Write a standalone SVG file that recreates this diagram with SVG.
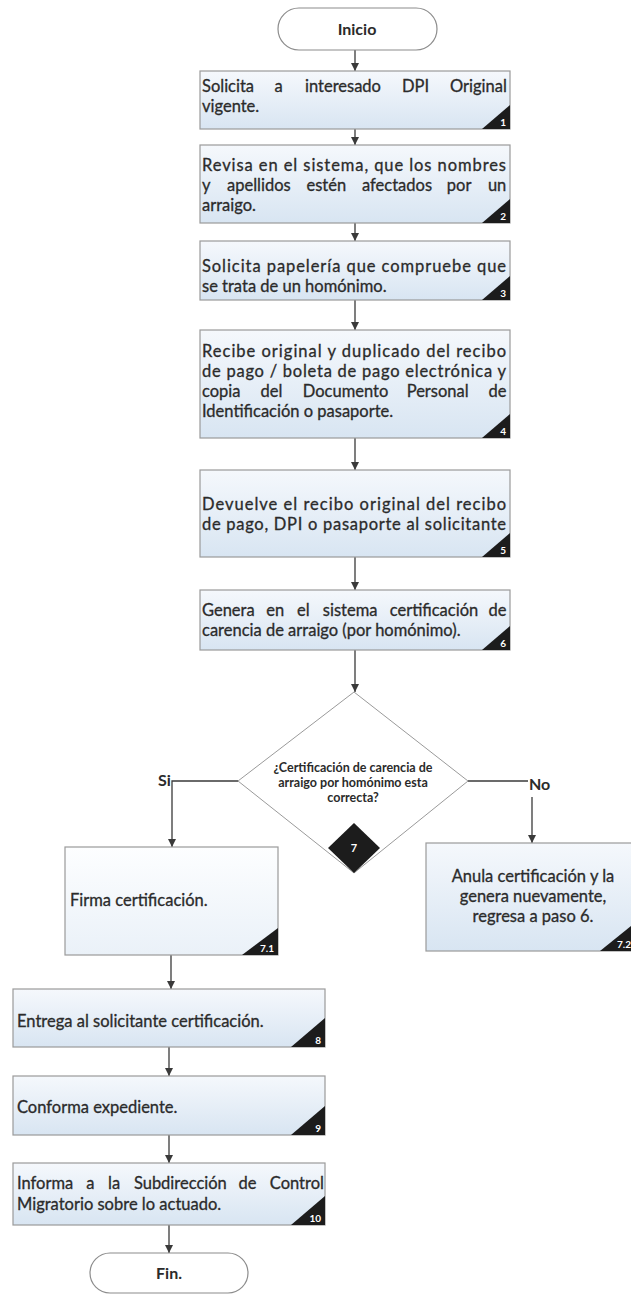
<svg xmlns="http://www.w3.org/2000/svg" width="631" height="1295" viewBox="0 0 631 1295">
<defs>
<linearGradient id="gb" x1="0" y1="0" x2="0" y2="1">
<stop offset="0" stop-color="#f5f8fc"/>
<stop offset="1" stop-color="#d8e5f2"/>
</linearGradient>
<linearGradient id="gw" x1="0" y1="0" x2="0" y2="1">
<stop offset="0" stop-color="#fdfeff"/>
<stop offset="1" stop-color="#eaf1f8"/>
</linearGradient>
<marker id="ah" markerWidth="9" markerHeight="9" refX="8" refY="4" orient="auto" markerUnits="userSpaceOnUse">
<path d="M0,0 L8,4 L0,8 z" fill="#3a3a3a"/>
</marker>
<style>
.box{fill:url(#gb);stroke:#9a9a9a;stroke-width:1.2}
.boxw{fill:url(#gw);stroke:#9a9a9a;stroke-width:1.2}
.term{fill:#ffffff;stroke:#8c8c8c;stroke-width:1.2}
.t{font-family:Lato,"Liberation Sans",sans-serif;font-size:16.5px;fill:#2b2b2b;stroke:#2b2b2b;stroke-width:0.3}
.tb{font-family:Lato,"Liberation Sans",sans-serif;font-size:16px;font-weight:bold;fill:#2b2b2b}
.dt{font-family:Lato,"Liberation Sans",sans-serif;font-size:12.5px;font-weight:bold;fill:#2b2b2b}
.tri{fill:#1c1c1c}
.num{font-family:Lato,"Liberation Sans",sans-serif;font-size:10px;font-weight:bold;fill:#ffffff;text-anchor:end}
.c{fill:none;stroke:#3a3a3a;stroke-width:1.3}
</style>
</defs>

<g id="connectors">
<line class="c" x1="355" y1="50" x2="355" y2="71" marker-end="url(#ah)"/>
<line class="c" x1="355" y1="129" x2="355" y2="145" marker-end="url(#ah)"/>
<line class="c" x1="355" y1="223" x2="355" y2="241" marker-end="url(#ah)"/>
<line class="c" x1="355" y1="300" x2="355" y2="330" marker-end="url(#ah)"/>
<line class="c" x1="355" y1="438" x2="355" y2="470" marker-end="url(#ah)"/>
<line class="c" x1="355" y1="557" x2="355" y2="590" marker-end="url(#ah)"/>
<line class="c" x1="355" y1="650" x2="355" y2="692" marker-end="url(#ah)"/>
<polyline class="c" points="238,781 172,781 172,847" marker-end="url(#ah)"/>
<line class="c" x1="468" y1="781" x2="528" y2="781"/>
<line class="c" x1="532" y1="797" x2="532" y2="843" marker-end="url(#ah)"/>
<line class="c" x1="171" y1="955" x2="171" y2="989" marker-end="url(#ah)"/>
<line class="c" x1="169" y1="1047" x2="169" y2="1076" marker-end="url(#ah)"/>
<line class="c" x1="169" y1="1135" x2="169" y2="1163" marker-end="url(#ah)"/>
<line class="c" x1="169" y1="1225" x2="169" y2="1253" marker-end="url(#ah)"/>
<text class="tb" x="158" y="786" font-size="14">Si</text>
<text class="tb" x="529" y="790" font-size="14">No</text>
</g>

<g id="inicio">
<rect class="term" x="278" y="8" width="159" height="42" rx="21"/>
<text class="tb" x="357" y="35" text-anchor="middle">Inicio</text>
</g>

<g id="step1">
<rect class="box" x="200" y="71" width="310" height="58"/>
<text class="t" y="92"><tspan x="202">Solicita</tspan><tspan x="274.5">a</tspan><tspan x="305">interesado</tspan><tspan x="402">DPI</tspan><tspan x="450">Original</tspan></text>
<text class="t" x="202" y="112">vigente.</text>
<polygon class="tri" points="482,129 510,105 510,129"/>
<text class="num" x="506" y="126">1</text>
</g>

<g id="step2">
<rect class="box" x="200" y="145" width="310" height="78"/>
<text class="t" x="202" y="171" textLength="304" lengthAdjust="spacing">Revisa en el sistema, que los nombres</text>
<text class="t" y="191"><tspan x="202">y</tspan><tspan x="227">apellidos</tspan><tspan x="306.5">estén</tspan><tspan x="362">afectados</tspan><tspan x="446.8">por</tspan><tspan x="487.9">un</tspan></text>
<text class="t" x="202" y="211">arraigo.</text>
<polygon class="tri" points="482,223 510,199 510,223"/>
<text class="num" x="506" y="220">2</text>
</g>

<g id="step3">
<rect class="box" x="200" y="241" width="310" height="59"/>
<text class="t" x="202" y="272" textLength="304" lengthAdjust="spacing">Solicita papelería que compruebe que</text>
<text class="t" x="202" y="292">se trata de un homónimo.</text>
<polygon class="tri" points="482,300 510,276 510,300"/>
<text class="num" x="506" y="297">3</text>
</g>

<g id="step4">
<rect class="box" x="200" y="330" width="310" height="108"/>
<text class="t" x="202" y="357" textLength="304" lengthAdjust="spacing">Recibe original y duplicado del recibo</text>
<text class="t" x="202" y="377" textLength="304" lengthAdjust="spacing">de pago / boleta de pago electrónica y</text>
<text class="t" y="397"><tspan x="202">copia</tspan><tspan x="260.5">del</tspan><tspan x="302.8">Documento</tspan><tspan x="406.7">Personal</tspan><tspan x="488.5">de</tspan></text>
<text class="t" x="202" y="417">Identificación o pasaporte.</text>
<polygon class="tri" points="482,438 510,414 510,438"/>
<text class="num" x="506" y="435">4</text>
</g>

<g id="step5">
<rect class="box" x="200" y="470" width="310" height="87"/>
<text class="t" x="202" y="510" textLength="304" lengthAdjust="spacing">Devuelve el recibo original del recibo</text>
<text class="t" x="202" y="530" textLength="304" lengthAdjust="spacing">de pago, DPI o pasaporte al solicitante</text>
<polygon class="tri" points="482,557 510,533 510,557"/>
<text class="num" x="506" y="554">5</text>
</g>

<g id="step6">
<rect class="box" x="200" y="590" width="310" height="60"/>
<text class="t" y="616"><tspan x="202">Genera</tspan><tspan x="266.3">en</tspan><tspan x="297.1">el</tspan><tspan x="322.8">sistema</tspan><tspan x="389.7">certificación</tspan><tspan x="488.5">de</tspan></text>
<text class="t" x="202" y="636">carencia de arraigo (por homónimo).</text>
<polygon class="tri" points="482,650 510,626 510,650"/>
<text class="num" x="506" y="647">6</text>
</g>

<g id="decision7">
<polygon points="354,692 468,781 354,873 238,781" fill="#ffffff" stroke="#9a9a9a" stroke-width="1"/>
<text class="dt" x="353" y="772" text-anchor="middle">¿Certificación de carencia de</text>
<text class="dt" x="353" y="787" text-anchor="middle">arraigo por homónimo esta</text>
<text class="dt" x="353" y="802" text-anchor="middle">correcta?</text>
<polygon points="354,823 380,848 354,873 328,848" fill="#1c1c1c"/>
<text x="354" y="852" text-anchor="middle" font-family="Lato, 'Liberation Sans', sans-serif" font-size="11" font-weight="bold" fill="#ffffff">7</text>
</g>

<g id="step7_1">
<rect class="boxw" x="65" y="847" width="213" height="108"/>
<text class="t" x="70" y="906">Firma certificación.</text>
<polygon class="tri" points="242,955 278,928 278,955"/>
<text class="num" x="274" y="952">7.1</text>
</g>

<g id="step7_2">
<rect class="box" x="426" y="843" width="210" height="108"/>
<text class="t" x="533" y="882" text-anchor="middle">Anula certificación y la</text>
<text class="t" x="533" y="902" text-anchor="middle">genera nuevamente,</text>
<text class="t" x="533" y="922" text-anchor="middle">regresa a paso 6.</text>
<polygon class="tri" points="600,951 631,926 631,951"/>
<text class="num" x="631" y="948">7.2</text>
</g>

<g id="step8">
<rect class="box" x="13" y="989" width="312" height="58"/>
<text class="t" x="17" y="1027">Entrega al solicitante certificación.</text>
<polygon class="tri" points="291,1047 325,1018 325,1047"/>
<text class="num" x="321" y="1044">8</text>
</g>

<g id="step9">
<rect class="box" x="13" y="1076" width="312" height="59"/>
<text class="t" x="17" y="1113">Conforma expediente.</text>
<polygon class="tri" points="291,1135 325,1106 325,1135"/>
<text class="num" x="321" y="1132">9</text>
</g>

<g id="step10">
<rect class="box" x="13" y="1163" width="312" height="62"/>
<text class="t" y="1189"><tspan x="17">Informa</tspan><tspan x="86.2">a</tspan><tspan x="108.1">la</tspan><tspan x="133.9">Subdirección</tspan><tspan x="238.5">de</tspan><tspan x="269.8">Control</tspan></text>
<text class="t" x="17" y="1210">Migratorio sobre lo actuado.</text>
<polygon class="tri" points="291,1225 325,1196 325,1225"/>
<text class="num" x="321" y="1222">10</text>
</g>

<g id="fin">
<rect class="term" x="90" y="1253" width="158" height="40" rx="20"/>
<text class="tb" x="169" y="1279" text-anchor="middle">Fin.</text>
</g>
</svg>
